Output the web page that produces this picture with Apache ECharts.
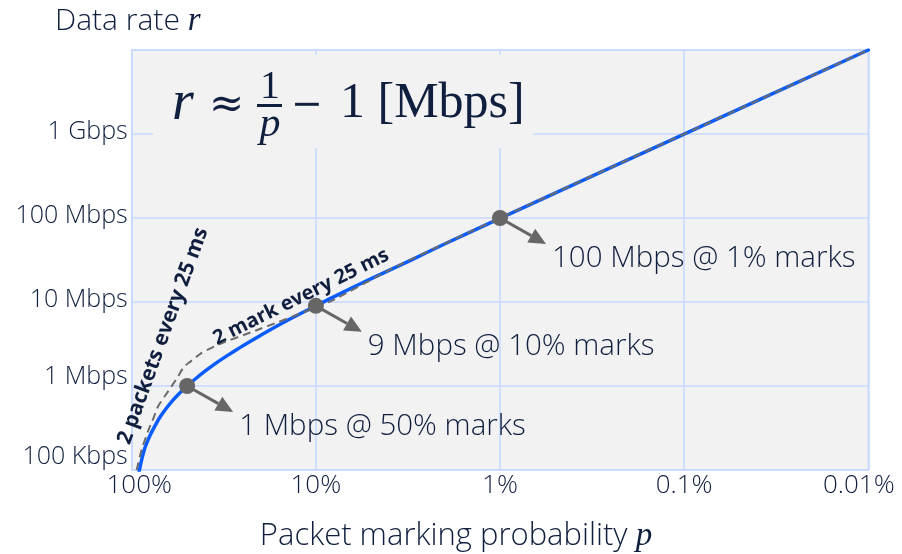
<!DOCTYPE html>
<html>
<head>
<meta charset="utf-8">
<title>Data rate vs packet marking probability</title>
<script src="https://cdn.jsdelivr.net/npm/echarts/dist/echarts.min.js"></script>
<style>
  html, body { margin: 0; padding: 0; background: #ffffff; }
  #chart { width: 902px; height: 554px; }
</style>
</head>
<body>
<div id="chart"></div>
<script>
// Marking probability p (fraction) and data rate r (Mbps) for the rate curve
const rateP = [0.93, 0.9, 0.85, 0.8, 0.75, 0.7, 0.65, 0.6, 0.55, 0.5, 0.45, 0.4, 0.35, 0.3, 0.25, 0.2, 0.15, 0.1, 0.07, 0.05, 0.03, 0.02, 0.01, 0.001, 0.0001];
const rateR = [0.075, 0.11, 0.18, 0.25, 0.33, 0.43, 0.54, 0.67, 0.82, 1.0, 1.22, 1.5, 1.86, 2.33, 3.0, 4.0, 5.7, 9.0, 13.3, 19, 32, 49, 99, 999, 9999];

// Bound set by "2 packets / 2 marks every 25 ms"
const boundP = [0.94, 0.88, 0.81, 0.76, 0.72, 0.66, 0.61, 0.56, 0.52, 0.48, 0.42, 0.34, 0.2, 0.084, 0.04, 0.024, 0.01, 0.001, 0.0001];
const boundR = [0.1, 0.18, 0.3, 0.42, 0.57, 0.76, 0.98, 1.3, 1.7, 1.95, 2.45, 3.1, 4.8, 10.1, 24, 41, 100, 1000, 10000];

// Highlighted operating points
const noteP = [0.5, 0.1, 0.01];
const noteR = [1, 9, 100];
const noteText = ['1 Mbps @ 50% marks', '9 Mbps @ 10% marks', '100 Mbps @ 1% marks'];

// Tick labels by decade exponent
const xTickLabels = { '0': '100%', '-1': '10%', '-2': '1%', '-3': '0.1%', '-4': '0.01%' };
const yTickLabels = { '-1': '100 Kbps', '0': '1 Mbps', '1': '10 Mbps', '2': '100 Mbps', '3': '1 Gbps', '4': '' };

const INK = '#111f3f';
const SANS = '"Open Sans", "Noto Sans", sans-serif';
const SERIF = '"Liberation Serif", "DejaVu Serif", serif';
const MATH = '"DejaVu Serif", "Liberation Serif", serif';
const GRID_COLOR = '#c7d8ff';

const zip = (a, b) => a.map((v, i) => [v, b[i]]);

const chart = echarts.init(document.getElementById('chart'), null, { renderer: 'canvas' });

function renderNote(params, api) {
  const pt = api.coord([api.value(0), api.value(1)]);
  const dx = 46, dy = 26;
  const tip = [pt[0] + dx, pt[1] + dy];
  const len = Math.hypot(dx, dy);
  const ux = dx / len, uy = dy / len;
  const head = 17, half = 8;
  const base = [tip[0] - ux * head, tip[1] - uy * head];
  const l = [base[0] - uy * half, base[1] + ux * half];
  const r = [base[0] + uy * half, base[1] - ux * half];
  return {
    type: 'group',
    children: [
      { type: 'line', shape: { x1: pt[0], y1: pt[1], x2: base[0], y2: base[1] },
        style: { stroke: '#666666', lineWidth: 3 } },
      { type: 'polygon', shape: { points: [tip, l, r] }, style: { fill: '#666666' } },
      { type: 'circle', shape: { cx: pt[0], cy: pt[1], r: 8 }, style: { fill: '#666666' } },
      { type: 'text', x: pt[0] + 52, y: pt[1] + 41,
        style: { text: noteText[params.dataIndex], fontSize: 29.5, fontFamily: SANS, fontWeight: 300,
                 fill: INK, align: 'left', verticalAlign: 'middle' } }
    ]
  };
}

const tickFont = (size, pad) => ({ fontSize: size, fontFamily: SANS, fontWeight: 300, color: INK, padding: pad });

const option = {
  animation: false,
  backgroundColor: '#ffffff',
  grid: {
    left: 131.7, right: 33.7, top: 50, bottom: 84,
    show: true, backgroundColor: '#f2f2f2', borderColor: GRID_COLOR, borderWidth: 1.5
  },
  xAxis: {
    type: 'log', logBase: 10, min: 0.0001, max: 1, inverse: true,
    axisLine: { show: false }, axisTick: { show: false },
    splitLine: { show: true, lineStyle: { color: GRID_COLOR, width: 1.5 } },
    axisLabel: {
      margin: 3, color: INK, fontSize: 26, fontFamily: SANS, fontWeight: 300,
      formatter: v => {
        const e = String(Math.round(Math.log10(v)));
        const t = xTickLabels[e];
        if (e === '0') return '{first|' + t + '}';
        if (e === '-4') return '{last|' + t + '}';
        return '{mid|' + t + '}';
      },
      rich: {
        first: tickFont(26, [0, 0, 0, 15]),
        mid: tickFont(26, [0, 0, 0, 0]),
        last: tickFont(26, [0, 19, 0, 0])
      }
    }
  },
  yAxis: {
    type: 'log', logBase: 10, min: 0.1, max: 10000,
    axisLine: { show: false }, axisTick: { show: false },
    splitLine: { show: true, lineStyle: { color: GRID_COLOR, width: 1.5 } },
    axisLabel: {
      margin: 4, color: INK, fontSize: 25, fontFamily: SANS, fontWeight: 300,
      formatter: v => {
        const e = String(Math.round(Math.log10(v)));
        const t = yTickLabels[e];
        if (e === '-1') return '{lo|' + t + '}';
        if (e === '0') return '{one|' + t + '}';
        return '{hi|' + t + '}';
      },
      rich: {
        lo: tickFont(25, [0, 0, 27, 0]),
        one: tickFont(25, [0, 0, 19, 0]),
        hi: tickFont(25, [0, 0, 4, 0])
      }
    }
  },
  series: [
    {
      name: 'rate', type: 'line', data: zip(rateP, rateR), smooth: 0.3,
      showSymbol: false, z: 3,
      lineStyle: { color: '#0a5cff', width: 3.5, cap: 'round' }
    },
    {
      name: 'bound', type: 'line', data: zip(boundP, boundR), smooth: 0.2,
      showSymbol: false, z: 4,
      lineStyle: { color: '#6b6b6b', width: 2, type: [8, 5] }
    },
    {
      name: 'notes', type: 'custom', data: zip(noteP, noteR), renderItem: renderNote,
      encode: { x: 0, y: 1 }, z: 6, clip: false
    }
  ],
  graphic: [
    // axis titles
    { type: 'text', x: 55, y: 21, z: 10,
      style: { text: '{a|Data rate }{m|r}', verticalAlign: 'middle', align: 'left',
               rich: { a: { fontSize: 30, fontFamily: SANS, fontWeight: 300, fill: INK },
                       m: { fontSize: 33, fontFamily: SERIF, fontStyle: 'italic', fill: INK } } } },
    { type: 'text', x: 456, y: 536, z: 10,
      style: { text: '{a|Packet marking probability }{m|p}', verticalAlign: 'middle', align: 'center',
               rich: { a: { fontSize: 31, fontFamily: SANS, fontWeight: 300, fill: INK },
                       m: { fontSize: 33, fontFamily: SERIF, fontStyle: 'italic', fill: INK } } } },
    // formula box
    { type: 'rect', shape: { x: 153, y: 55, width: 380, height: 93 }, style: { fill: '#f2f2f2' }, z: 5 },
    { type: 'text', x: 172, y: 104, z: 10,
      style: { text: 'r', font: 'italic 56px ' + SERIF, fill: INK, verticalAlign: 'middle', align: 'left' } },
    { type: 'text', x: 209, y: 106, z: 10,
      style: { text: '≈', font: '42px ' + MATH, fill: INK, verticalAlign: 'middle', align: 'left' } },
    { type: 'text', x: 270, y: 87, z: 10,
      style: { text: '1', font: '40px ' + SERIF, fill: INK, verticalAlign: 'middle', align: 'center' } },
    { type: 'rect', shape: { x: 257, y: 104, width: 25, height: 3 }, style: { fill: INK }, z: 10 },
    { type: 'text', x: 270, y: 125, z: 10,
      style: { text: 'p', font: 'italic 42px ' + SERIF, fill: INK, verticalAlign: 'middle', align: 'center' } },
    { type: 'text', x: 291, y: 106, z: 10,
      style: { text: '−', font: '38px ' + MATH, fill: INK, verticalAlign: 'middle', align: 'left' } },
    { type: 'text', x: 340, y: 104, z: 10,
      style: { text: '1 [Mbps]', font: '50px ' + SERIF, fill: INK, verticalAlign: 'middle', align: 'left' } },
    // curve annotations
    { type: 'text', x: 163, y: 336, rotation: 70 * Math.PI / 180, z: 10,
      style: { text: '2 packets every 25 ms', font: 'bold 21px ' + SANS, fill: INK, verticalAlign: 'middle', align: 'center' } },
    { type: 'text', x: 301, y: 297, rotation: 26.4 * Math.PI / 180, z: 10,
      style: { text: '2 mark every 25 ms', font: 'bold 20px ' + SANS, fill: INK, verticalAlign: 'middle', align: 'center' } }
  ]
};

chart.setOption(option);
</script>
</body>
</html>
